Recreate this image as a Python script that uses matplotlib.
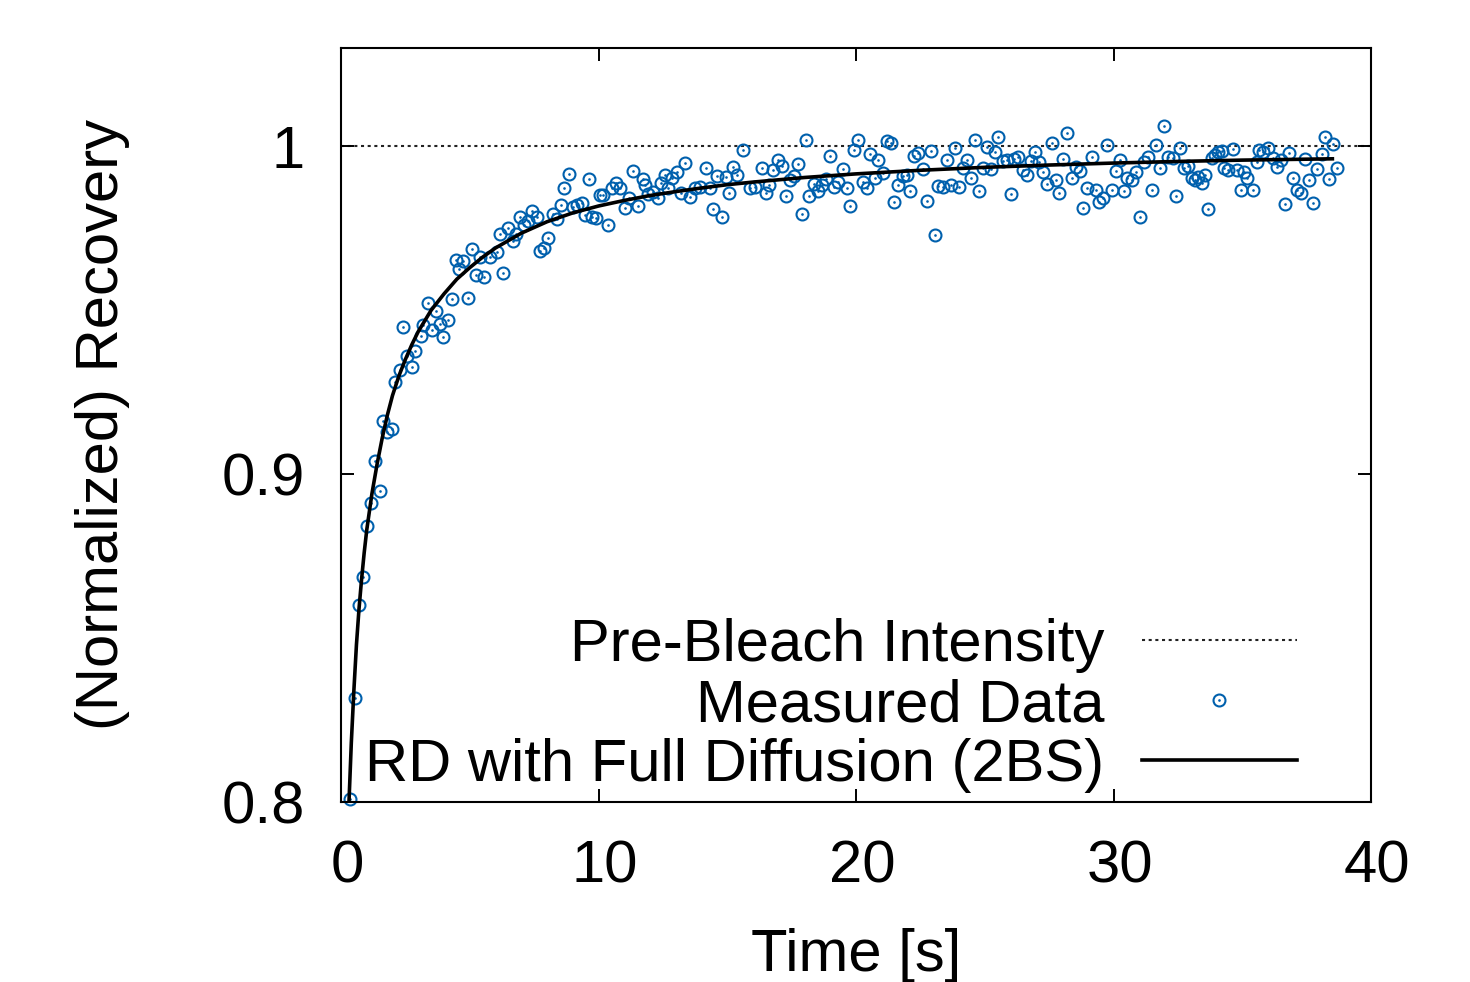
import matplotlib
matplotlib.use("Agg")
import matplotlib.pyplot as plt
import matplotlib.transforms as mtransforms
from matplotlib.legend_handler import HandlerTuple

plt.rcParams['font.family'] = ['Liberation Sans', 'DejaVu Sans']
plt.rcParams['lines.scale_dashes'] = False

# ---------------- data ----------------
time_s = [
    0.35, 0.54, 0.70, 0.87, 1.00, 1.17, 1.32, 1.51, 1.64, 1.77,
    1.97, 2.10, 2.29, 2.42, 2.55, 2.75, 2.87, 3.11, 3.20, 3.37,
    3.52, 3.69, 3.84, 3.97, 4.17, 4.30, 4.45, 4.58, 4.75, 4.92,
    5.08, 5.23, 5.40, 5.56, 5.79, 6.05, 6.17, 6.30, 6.50, 6.67,
    6.80, 6.95, 7.12, 7.25, 7.41, 7.60, 7.73, 7.88, 8.05, 8.22,
    8.38, 8.53, 8.67, 8.84, 9.02, 9.18, 9.35, 9.48, 9.63, 9.75,
    9.90, 10.06, 10.19, 10.38, 10.51, 10.67, 10.83, 11.03, 11.20, 11.35,
    11.52, 11.72, 11.81, 11.93, 12.13, 12.32, 12.43, 12.58, 12.70, 12.85,
    13.04, 13.20, 13.36, 13.55, 13.75, 13.94, 14.17, 14.33, 14.46, 14.59,
    14.78, 14.95, 15.08, 15.23, 15.39, 15.61, 15.88, 16.08, 16.34, 16.50,
    16.63, 16.79, 16.98, 17.11, 17.28, 17.44, 17.59, 17.76, 17.89, 18.06,
    18.19, 18.37, 18.54, 18.67, 18.83, 18.99, 19.15, 19.31, 19.48, 19.64,
    19.77, 19.92, 20.09, 20.26, 20.42, 20.54, 20.74, 20.87, 21.04, 21.19,
    21.35, 21.49, 21.64, 21.81, 21.97, 22.10, 22.25, 22.42, 22.59, 22.74,
    22.90, 23.07, 23.20, 23.37, 23.52, 23.68, 23.84, 24.01, 24.14, 24.30,
    24.45, 24.62, 24.79, 24.94, 25.10, 25.23, 25.40, 25.53, 25.72, 25.86,
    26.01, 26.14, 26.30, 26.47, 26.65, 26.78, 26.95, 27.12, 27.27, 27.43,
    27.60, 27.77, 27.90, 28.05, 28.21, 28.38, 28.54, 28.70, 28.83, 28.98,
    29.15, 29.32, 29.45, 29.60, 29.76, 29.93, 30.10, 30.25, 30.41, 30.54,
    30.71, 30.87, 31.03, 31.18, 31.35, 31.48, 31.65, 31.81, 31.96, 32.13,
    32.30, 32.43, 32.58, 32.74, 32.90, 33.04, 33.17, 33.29, 33.42, 33.55,
    33.68, 33.81, 33.94, 34.07, 34.20, 34.29, 34.46, 34.63, 34.78, 34.94,
    35.07, 35.20, 35.41, 35.56, 35.66, 35.82, 36.01, 36.18, 36.34, 36.49,
    36.66, 36.83, 36.96, 37.11, 37.27, 37.44, 37.60, 37.76, 37.91, 38.08,
    38.21, 38.38, 38.54, 38.69,
]

recovery = [
    0.8010, 0.8317, 0.8602, 0.8687, 0.8842, 0.8913, 0.9041, 0.8949, 0.9163, 0.9128,
    0.9138, 0.9281, 0.9319, 0.9449, 0.9362, 0.9328, 0.9375, 0.9423, 0.9454, 0.9522,
    0.9441, 0.9498, 0.9459, 0.9418, 0.9469, 0.9535, 0.9654, 0.9627, 0.9649, 0.9537,
    0.9688, 0.9609, 0.9663, 0.9600, 0.9663, 0.9678, 0.9732, 0.9615, 0.9751, 0.9710,
    0.9734, 0.9785, 0.9759, 0.9772, 0.9802, 0.9784, 0.9680, 0.9690, 0.9721, 0.9795,
    0.9777, 0.9820, 0.9874, 0.9915, 0.9816, 0.9820, 0.9826, 0.9790, 0.9899, 0.9785,
    0.9782, 0.9853, 0.9851, 0.9761, 0.9872, 0.9887, 0.9872, 0.9813, 0.9841, 0.9924,
    0.9819, 0.9899, 0.9882, 0.9856, 0.9861, 0.9841, 0.9887, 0.9912, 0.9872, 0.9902,
    0.9923, 0.9859, 0.9948, 0.9846, 0.9872, 0.9877, 0.9935, 0.9872, 0.9808, 0.9910,
    0.9785, 0.9907, 0.9859, 0.9938, 0.9912, 0.9989, 0.9872, 0.9877, 0.9935, 0.9859,
    0.9882, 0.9928, 0.9958, 0.9940, 0.9849, 0.9897, 0.9910, 0.9945, 0.9795, 1.0019,
    0.9849, 0.9885, 0.9863, 0.9882, 0.9900, 0.9972, 0.9877, 0.9890, 0.9931, 0.9872,
    0.9819, 0.9989, 1.0019, 0.9892, 0.9872, 0.9976, 0.9904, 0.9958, 0.9920, 1.0016,
    1.0009, 0.9829, 0.9882, 0.9910, 0.9914, 0.9863, 0.9972, 0.9979, 0.9931, 0.9833,
    0.9986, 0.9731, 0.9879, 0.9877, 0.9958, 0.9882, 0.9996, 0.9877, 0.9933, 0.9958,
    0.9904, 1.0019, 0.9863, 0.9935, 0.9999, 0.9931, 0.9984, 1.0030, 0.9955, 0.9958,
    0.9856, 0.9961, 0.9968, 0.9928, 0.9914, 0.9955, 0.9984, 0.9953, 0.9923, 0.9884,
    1.0009, 0.9897, 0.9859, 0.9961, 1.0040, 0.9904, 0.9938, 0.9924, 0.9813, 0.9874,
    0.9968, 0.9866, 0.9829, 0.9841, 1.0004, 0.9866, 0.9924, 0.9958, 0.9863, 0.9902,
    0.9897, 0.9923, 0.9785, 0.9953, 0.9968, 0.9866, 1.0004, 0.9935, 1.0063, 0.9968,
    0.9965, 0.9849, 0.9996, 0.9933, 0.9941, 0.9902, 0.9897, 0.9907, 0.9887, 0.9912,
    0.9810, 0.9963, 0.9973, 0.9984, 0.9986, 0.9935, 0.9928, 0.9992, 0.9928, 0.9866,
    0.9923, 0.9902, 0.9866, 0.9953, 0.9989, 0.9984, 0.9996, 0.9963, 0.9938, 0.9958,
    0.9823, 0.9979, 0.9902, 0.9866, 0.9859, 0.9961, 0.9897, 0.9826, 0.9931, 0.9976,
    1.0027, 0.9900, 1.0006, 0.9933,
]

fit_time = [0.25, 0.31, 0.40, 0.50, 0.60, 0.70, 0.80, 0.90, 1.00, 1.20,
            1.40, 1.60, 1.80, 2.00, 2.25, 2.50, 2.75, 3.00, 3.50, 4.00,
            4.50, 5.00, 5.50, 6.00, 7.00, 8.00, 9.00, 10.0, 11.0, 12.0,
            13.0, 14.0, 15.0, 16.0, 18.0, 20.0, 22.5, 25.0, 27.5, 30.0,
            32.5, 35.0, 38.5]
fit_recovery = [0.790, 0.800, 0.818, 0.834, 0.848, 0.859, 0.868, 0.876, 0.883, 0.894,
                0.903, 0.911, 0.918, 0.924, 0.930, 0.935, 0.9395, 0.9435, 0.9500, 0.9550,
                0.9595, 0.9630, 0.9662, 0.9690, 0.9735, 0.9770, 0.9797, 0.9818, 0.9835, 0.9850,
                0.9862, 0.9873, 0.9883, 0.9891, 0.9905, 0.9916, 0.9927, 0.9936, 0.9943, 0.9949,
                0.9954, 0.9958, 0.9962]

prebleach_level = 1.0
x_ticks = [0, 10, 20, 30, 40]
y_ticks = [0.8, 0.9, 1.0]
y_tick_labels = ['0.8', '0.9', '1']

labels = ['Pre-Bleach Intensity', 'Measured Data', 'RD with Full Diffusion (2BS)']
x_label = 'Time [s]'
y_label = '(Normalized) Recovery'

# ---------------- figure ----------------
FS = 43
blue = '#0060ad'

fig = plt.figure(figsize=(14.7, 9.82), dpi=100)
ax = fig.add_axes([341 / 1470, 1 - 802 / 982, 1030 / 1470, 754 / 982])

pre = ax.axhline(prebleach_level, color='#222222', lw=1.5,
                 linestyle=(0, (2.2, 2.6)), zorder=1)
circ, = ax.plot(time_s, recovery, linestyle='none', marker='o', ms=8.6,
                mfc='none', mec=blue, mew=1.5, clip_on=False, zorder=2)
dot, = ax.plot(time_s, recovery, linestyle='none', marker='o', ms=1.9,
               mfc=blue, mec=blue, mew=0, clip_on=False, zorder=2)
fit, = ax.plot(fit_time, fit_recovery, color='black', lw=2.6, zorder=3)

ax.set_xlim(0, 40)
ax.set_ylim(0.8, 1.03)
ax.set_xticks(x_ticks)
ax.set_yticks(y_ticks)
ax.set_yticklabels(y_tick_labels)

for s in ax.spines.values():
    s.set_linewidth(1.5)
ax.tick_params(which='both', direction='in', length=9.5, width=1.4,
               top=True, right=True, labelsize=FS)
ax.tick_params(axis='x', pad=27)
ax.tick_params(axis='y', pad=26)

# gnuplot places x tick labels slightly right of the tick
shift = mtransforms.ScaledTranslation(6 / 100, 0, fig.dpi_scale_trans)
for lab in ax.get_xticklabels():
    lab.set_transform(lab.get_transform() + shift)

ax.set_xlabel(x_label, fontsize=FS)
ax.set_ylabel(y_label, fontsize=FS)
ax.xaxis.set_label_coords(0.5, -0.167)
ax.yaxis.set_label_coords(-0.205, 0.5)

leg = ax.legend([pre, (circ, dot), fit], labels,
                handler_map={tuple: HandlerTuple(ndivide=1)},
                loc='lower right', bbox_to_anchor=(0.928, 0.012),
                frameon=False, markerfirst=False, fontsize=FS,
                handlelength=2.6, handletextpad=0.62, labelspacing=0.08,
                borderpad=0, borderaxespad=0)

fig.savefig('out.png', dpi=100)
